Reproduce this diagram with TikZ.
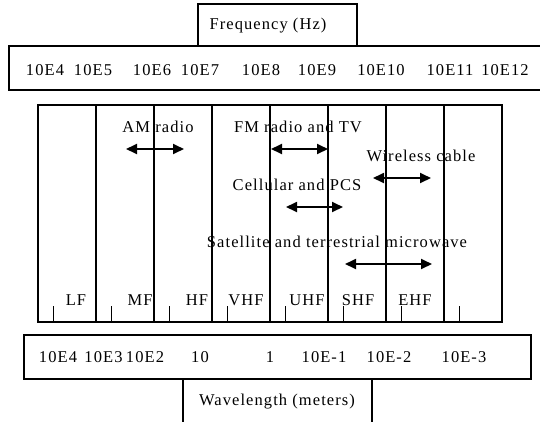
\documentclass[tikz,border=0pt]{standalone}
\usepackage{fontspec}
\setmainfont[LetterSpace=6.5]{Liberation Serif}
\usepackage{tikz}
\usetikzlibrary{arrows.meta}

\begin{document}
\begin{tikzpicture}[x=1pt, y=-1pt, font=\fontsize{16.5}{19}\selectfont,
    box/.style={line width=1.6pt},
    divider/.style={line width=1.2pt},
    tickmark/.style={line width=0.9pt},
    txt/.style={anchor=base, inner sep=0pt},
    spanarrow/.style={{Triangle[length=11pt, width=10pt]}-{Triangle[length=11pt, width=10pt]}, line width=1.8pt}]
  \useasboundingbox (0,0) rectangle (540,421);

  % Frequency scale
  \draw[box] (198,46) -- (198,4) -- (357,4) -- (357,46);
  \node[txt] (freq) at (268,29) {Frequency (Hz)};
  \draw[box] (542,46) -- (9,46) -- (9,90) -- (542,90);
  \foreach \i/\x/\val in {1/45/10E4, 2/93/10E5, 3/152/10E6, 4/200/10E7, 5/261/10E8,
                          6/317/10E9, 7/381/10E10, 8/450/10E11, 9/505/10E12} {
    \node[txt] (f\i) at (\x,75) {\val};
  }

  % Bands
  \draw[box] (38,105) rectangle (502,322);
  \foreach \i in {1,...,7} {
    \draw[divider] (38+\i*58,105) -- (38+\i*58,322);
  }
  \foreach \i in {0,...,7} {
    \draw[tickmark] (53+\i*58,306) -- (53+\i*58,322);
  }
  \foreach \i/\x/\val in {1/76/LF, 2/140/MF, 3/197/HF, 4/246/VHF,
                          5/307/UHF, 6/358/SHF, 7/415/EHF} {
    \node[txt] (b\i) at (\x,305) {\val};
  }

  % Services
  \node[txt] (am) at (158,132) {AM radio};
  \node[txt] (fm) at (298,132) {FM radio and TV};
  \node[txt] (wl) at (421,161) {Wireless cable};
  \node[txt] (cell) at (297,190) {Cellular and PCS};
  \node[txt] (sat) at (337,247) {Satellite and terrestrial microwave};
  \foreach \a/\b/\y in {126/184/149, 271/328/149, 373/431/178, 286/343/207, 345/432/264} {
    \draw[spanarrow] (\a,\y) -- (\b,\y);
  }

  % Wavelength scale
  \draw[box] (24,335) rectangle (531,379);
  \foreach \i/\x/\val in {1/58/10E4, 2/103.5/10E3, 3/145/10E2, 4/200/10,
                          5/270/1, 6/324/10E-1, 7/389/10E-2, 8/464/10E-3} {
    \node[txt] (w\i) at (\x,362) {\val};
  }
  \draw[box] (183,379) -- (183,423);
  \draw[box] (372,379) -- (372,423);
  \node[txt] (wave) at (277,405) {Wavelength (meters)};
\end{tikzpicture}
\end{document}
